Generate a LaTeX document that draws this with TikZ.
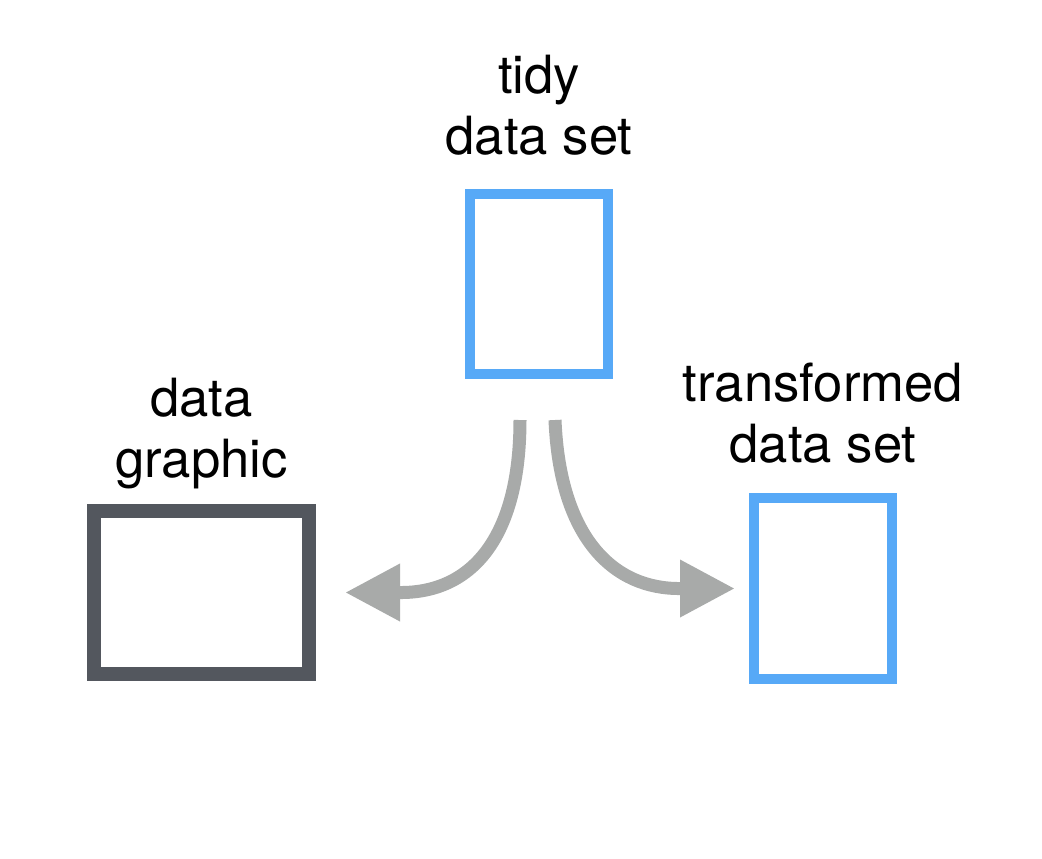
\documentclass[tikz,border=0pt]{standalone}
\usepackage{fontspec}
\setmainfont{TeX Gyre Heros}
\usetikzlibrary{positioning,arrows.meta,calc}
\definecolor{tidyblue}{HTML}{57A9F7}
\definecolor{plotgray}{HTML}{53575E}
\definecolor{flowgray}{HTML}{A8AAA9}

\begin{document}
\begin{tikzpicture}[x=0.75pt, y=-0.75pt,
  sheet/.style={draw=tidyblue, line width=7.5pt, inner sep=0pt, minimum width=103.5pt, minimum height=135pt},
  heading/.style={align=center, inner sep=0pt, text depth=0pt, font=\fontsize{39.5}{46}\selectfont},
  flow/.style={draw=flowgray, line width=9.75pt, -{Triangle[length=41.25pt, width=40.5pt]}}]
  \useasboundingbox (0,0) rectangle (1042,858);
  \node(tidy)[sheet] at (539,284) {};
  \node(trans)[sheet, minimum height=135.75pt] at (823,588.5) {};
  \node(graphic)[sheet, draw=plotgray, line width=10.5pt, minimum width=161.25pt, minimum height=122.25pt] at (201.5,592.5) {};
  \node(tidytxt)[heading, above=25.5pt of tidy] {tidy\\data set};
  \node(transtxt)[heading, above=22.5pt of trans] {transformed\\data set};
  \node(graphictxt)[heading, above=19.5pt of graphic] {data\\graphic};
  \coordinate(forkL) at (520,420);
  \coordinate(forkR) at (555,420);
  \coordinate(tipL) at ([xshift=21.75pt]graphic.east);
  \coordinate(tipR) at ([xshift=-10.5pt]trans.west);
  \draw[flow] (forkL) .. controls (520,540) and (470,593) .. ($(tipL)+(55,0)$) -- (tipL);
  \draw[flow] (forkR) .. controls (560,540) and (615,589) .. ($(tipR)+(-55,0)$) -- (tipR);
\end{tikzpicture}
\end{document}
